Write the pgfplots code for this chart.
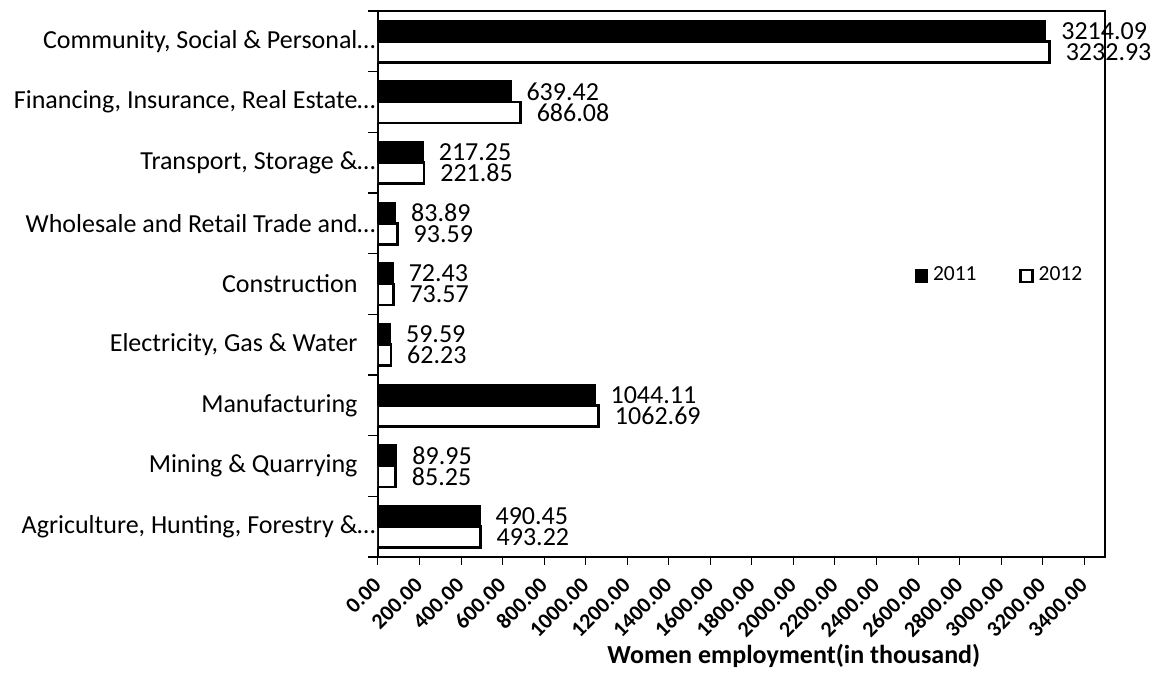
\documentclass[border=0pt]{standalone}
\usepackage{pgfplots}
\pgfplotsset{compat=1.18}
\usepackage{pgfplotstable}
\usepackage{fontspec}
\setmainfont{Carlito}

\pgfplotstableread{
y a b
0 490.45 493.22
1 89.95 85.25
2 1044.11 1062.69
3 59.59 62.23
4 72.43 73.57
5 83.89 93.59
6 217.25 221.85
7 639.42 686.08
8 3214.09 3232.93
}\datatable

\begin{document}
\begin{tikzpicture}
\begin{axis}[
  scale only axis, width=290.8pt, height=218.4pt,
  xmin=0, xmax=3500, ymin=-0.5, ymax=8.5,
  xbar, bar width=8.4pt,
  /pgf/number format/assume math mode=true,
  /pgf/number format/1000 sep={},
  axis line style={line width=0.8pt},
  xtick={0,200,...,3400},
  xticklabel={\pgfmathprintnumber[fixed,fixed zerofill,precision=2]{\tick}},
  xticklabel style={xshift=0.5pt, rotate=45, anchor=east, font=\bfseries\fontsize{8.8}{10}\selectfont, inner sep=1pt},
  xticklabel shift=6pt,
  ytick={0,...,8},
  yticklabels={
    {Agriculture, Hunting, Forestry \&\rlap{…}},
    {Mining \& Quarrying},
    {Manufacturing},
    {Electricity, Gas \& Water},
    {Construction},
    {Wholesale and Retail Trade and\rlap{…}},
    {Transport, Storage \&\rlap{…}},
    {Financing, Insurance, Real Estate\rlap{…}},
    {Community, Social \& Personal\rlap{…}}},
  yticklabel style={font=\fontsize{10.4}{12}\selectfont, anchor=east, inner sep=0pt, xshift=-5pt},
  tick align=outside,
  xtick pos=bottom, ytick pos=left,
  major tick length=3pt,
  minor tick length=4pt,
  major y tick style={draw=none},
  minor ytick={-0.5,0.5,...,8.5},
  minor y tick style={black, line width=0.6pt},
  major x tick style={black, line width=0.4pt},
  xlabel={Women employment(in thousand)},
  xlabel style={font=\bfseries\fontsize{10.4}{12}\selectfont, at={(axis description cs:0.572,0)}, anchor=center, yshift=-39.6pt},
  point meta=x,
  nodes near coords={\pgfmathprintnumber[fixed,fixed zerofill,precision=2]{\pgfplotspointmeta}},
  nodes near coords style={font=\fontsize{10.4}{12}\selectfont, anchor=west, inner sep=1pt, xshift=5pt, black},
  legend style={at={(axis description cs:0.727,0.515)}, anchor=west, draw=none, fill=none,
    font=\fontsize{8.6}{10}\selectfont, legend columns=2,
    /tikz/every even column/.append style={column sep=15pt}},
  legend image code/.code={\draw[#1] (0pt,-2.4pt) rectangle (4.8pt,2.4pt);},
]
\addplot[fill=black, draw=black, line width=0.6pt, bar shift=4.2pt] table[x=a, y=y]{\datatable};
\addplot[fill=white, draw=black, line width=1pt, bar shift=-4.2pt] table[x=b, y=y]{\datatable};
\legend{2011, 2012}
\end{axis}
\pgfresetboundingbox
\path[use as bounding box] (-151.2pt,-46pt) rectangle (314.8pt,222.8pt);
\end{tikzpicture}
\end{document}
